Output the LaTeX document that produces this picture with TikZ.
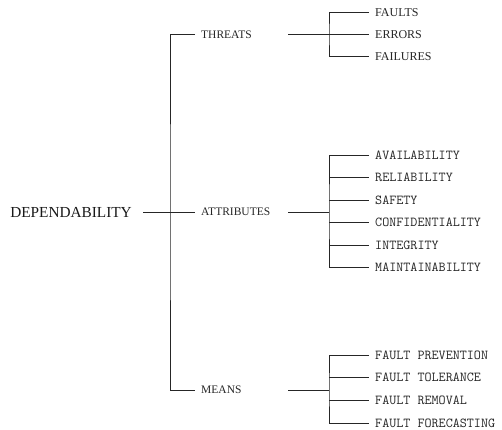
\documentclass[tikz,border=0pt]{standalone}
\usepackage{fontspec}
\setmainfont{Liberation Serif}
\usetikzlibrary{positioning}

\begin{document}
\begin{tikzpicture}[x=1pt,y=-1pt,
    conn/.style={draw=black!85, line width=0.8pt},
    rootlabel/.style={font=\fontsize{15.3}{17}\selectfont, text=black!90, inner xsep=11pt, inner ysep=0pt, anchor=east},
    midlabel/.style={font=\fontsize{11.5}{13}\selectfont, text=black!85, inner xsep=6pt, inner ysep=0pt, anchor=west},
    leaflabel/.style={font=\fontsize{12}{14}\selectfont, text=black!85, inner xsep=6pt, inner ysep=0pt, anchor=west},
    monolabel/.style={leaflabel, font=\ttfamily\fontsize{13.7}{15}\selectfont}]
    \useasboundingbox (0,0) rectangle (502,429);

    % root and the three branches
    \node[rootlabel] (dep) at (143,212) {DEPENDABILITY};
    \node[midlabel] (thr) at (195,34.5) {THREATS};
    \node[midlabel] (att) at (195,212) {ATTRIBUTES};
    \node[midlabel] (mea) at (195,390) {MEANS};

    \coordinate (hub) at (170,212);
    \draw[conn] (dep.east) -- (att.west);
    \draw[conn] (thr.west) -| (hub) |- (mea.west);

    % threats
    \foreach \n/\y/\t in {fau/12.5/FAULTS, err/34.5/ERRORS, fai/56.5/FAILURES} {
      \node[leaflabel] (\n) at (369,\y) {\t};
    };
    \coordinate (throut) at (288,34.5);
    \coordinate (thrbar) at (329,34.5);
    \draw[conn] (throut) -- (err.west);
    \draw[conn] (fau.west) -| (thrbar) |- (fai.west);

    % attributes
    \foreach \n/\y/\t in {ava/155/AVAILABILITY, rel/177.5/RELIABILITY, saf/200/SAFETY,%
                          con/222.5/CONFIDENTIALITY, int/245/INTEGRITY, mai/267.5/MAINTAINABILITY} {
      \node[monolabel] (\n) at (369,\y) {\t};
    };
    \coordinate (attout) at (288,212);
    \coordinate (attbar) at (329,212);
    \draw[conn] (attout) -- (attbar);
    \draw[conn] (ava.west) -| (attbar) |- (mai.west);
    \foreach \n in {rel,saf,con,int} {
      \draw[conn] (attbar |- \n.west) -- (\n.west);
    };

    % means
    \foreach \n/\y/\t in {fpr/355/FAULT PREVENTION, fto/377.7/FAULT TOLERANCE,%
                          frm/400.5/FAULT REMOVAL, ffo/423/FAULT FORECASTING} {
      \node[monolabel] (\n) at (369,\y) {\t};
    };
    \coordinate (meaout) at (288,390);
    \coordinate (meabar) at (329,390);
    \draw[conn] (meaout) -- (meabar);
    \draw[conn] (fpr.west) -| (meabar) |- (ffo.west);
    \foreach \n in {fto,frm} {
      \draw[conn] (meabar |- \n.west) -- (\n.west);
    };
\end{tikzpicture}
\end{document}
